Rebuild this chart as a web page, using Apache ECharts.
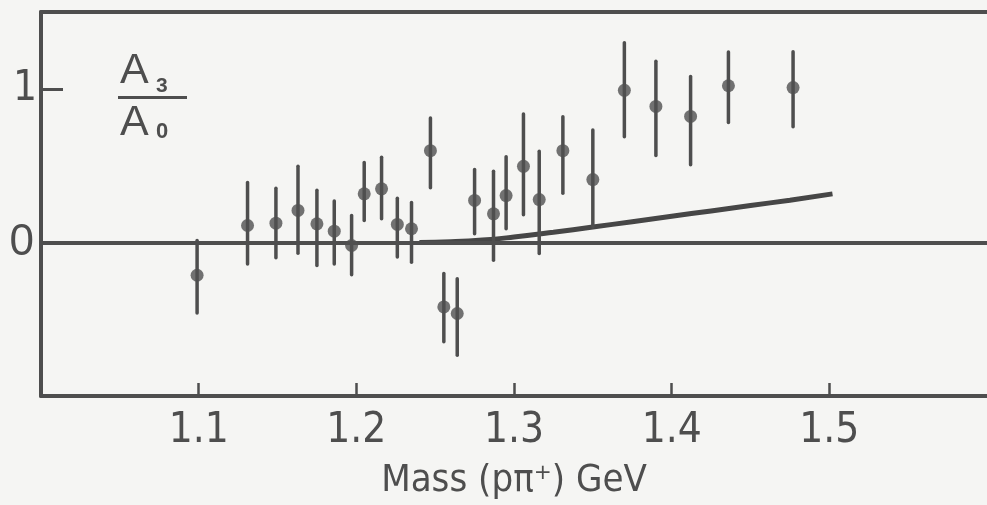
<!DOCTYPE html>
<html>
<head>
<meta charset="utf-8">
<script src="https://cdn.jsdelivr.net/npm/echarts@6/dist/echarts.min.js"></script>
<style>
  html, body { margin: 0; padding: 0; background: #f5f5f3; }
  #chart { width: 987px; height: 505px; }
</style>
</head>
<body>
<div id="chart"></div>
<script>
// ---- data ----
const massGeV   = [1.099, 1.131, 1.149, 1.163, 1.175, 1.186, 1.197, 1.205, 1.216, 1.226, 1.235, 1.247, 1.2555, 1.264, 1.275, 1.287, 1.295, 1.306, 1.316, 1.331, 1.350, 1.370, 1.390, 1.412, 1.436, 1.477];
const ratioA3A0 = [-0.214, 0.11, 0.125, 0.208, 0.121, 0.073, -0.02, 0.316, 0.349, 0.117, 0.089, 0.597, -0.42, -0.463, 0.273, 0.186, 0.305, 0.495, 0.279, 0.597, 0.409, 0.99, 0.885, 0.82, 1.02, 1.008];
const errTop    = [0.013, 0.39, 0.353, 0.495, 0.34, 0.27, 0.175, 0.52, 0.554, 0.288, 0.26, 0.81, -0.203, -0.236, 0.474, 0.463, 0.558, 0.836, 0.593, 0.818, 0.732, 1.30, 1.18, 1.08, 1.24, 1.242];
const errBottom = [-0.46, -0.14, -0.10, -0.07, -0.15, -0.14, -0.21, 0.143, 0.154, -0.095, -0.13, 0.355, -0.647, -0.734, 0.056, -0.117, 0.089, 0.18, -0.073, 0.32, 0.10, 0.688, 0.565, 0.505, 0.78, 0.753];
const curveMass  = [1.24, 1.26, 1.28, 1.30, 1.325, 1.35, 1.375, 1.40, 1.425, 1.45, 1.475, 1.502];
const curveRatio = [0.0, 0.004, 0.015, 0.035, 0.066, 0.10, 0.135, 0.17, 0.205, 0.24, 0.275, 0.316];
const xTickLabels = [1.1, 1.2, 1.3, 1.4, 1.5];
const yTickLabels = [0, 1];
const xTitle = 'Mass (pπ⁺) GeV';

// ---- build chart ----
const INK = '#4e4e4e';
const NARROW = '"Liberation Sans Narrow", "DejaVu Sans Condensed", "Liberation Sans", sans-serif';
const chart = echarts.init(document.getElementById('chart'), null, { renderer: 'canvas' });

const points = massGeV.map((m, i) => [m, ratioA3A0[i]]);
const bars = massGeV.map((m, i) => [m, errBottom[i], errTop[i]]);
const curve = curveMass.map((m, i) => [m, curveRatio[i]]);

chart.setOption({
  backgroundColor: '#f5f5f3',
  animation: false,
  grid: { left: 41, right: 0, top: 12, bottom: 108, containLabel: false },
  xAxis: [{
    type: 'value', min: 1.0, max: 1.6, position: 'bottom',
    axisLine: { show: true, onZero: false, lineStyle: { color: INK, width: 4 } },
    axisTick: { show: true, inside: true, length: 13, customValues: xTickLabels, lineStyle: { color: INK, width: 2.5 } },
    axisLabel: { show: true, customValues: xTickLabels, formatter: v => v.toFixed(1), color: INK, fontSize: 42, fontFamily: NARROW, margin: 14 },
    splitLine: { show: false },
    name: xTitle, nameLocation: 'middle', nameGap: 66,
    nameTextStyle: { color: INK, fontSize: 38, fontFamily: NARROW }
  }, {
    type: 'value', min: 1.0, max: 1.6, position: 'top',
    axisLine: { show: true, onZero: false, lineStyle: { color: INK, width: 4 } },
    axisTick: { show: false }, axisLabel: { show: false }, splitLine: { show: false }
  }],
  yAxis: {
    type: 'value', min: -1, max: 1.5,
    axisLine: { show: true, onZero: false, lineStyle: { color: INK, width: 4 } },
    axisTick: { show: true, inside: true, length: 22, customValues: [1], lineStyle: { color: INK, width: 3 } },
    axisLabel: {
      show: true, customValues: yTickLabels, margin: 4, color: INK, fontFamily: NARROW,
      formatter: v => v === 0 ? '{z|0}' : '{o|1}',
      rich: {
        z: { fontSize: 44, color: INK, fontFamily: '"Liberation Sans", sans-serif', padding: [0, 3, 0, 0] },
        o: { fontSize: 42, color: INK, fontFamily: NARROW, padding: [0, 0, 0, 0] }
      }
    },
    splitLine: { show: false }
  },
  graphic: [
    { type: 'text', left: 120, top: 50, style: { text: 'A', font: '43px "Liberation Sans", sans-serif', fill: INK } },
    { type: 'text', left: 156, top: 76, style: { text: '3', font: 'bold 21px "Liberation Sans", sans-serif', fill: INK } },
    { type: 'rect', shape: { x: 118, y: 96, width: 69, height: 3 }, style: { fill: INK } },
    { type: 'text', left: 120, top: 102, style: { text: 'A', font: '43px "Liberation Sans", sans-serif', fill: INK } },
    { type: 'text', left: 156, top: 121, style: { text: '0', font: 'bold 22px "Liberation Sans", sans-serif', fill: INK } }
  ],
  series: [
    {
      type: 'line', data: curve, smooth: true, showSymbol: false, silent: true,
      lineStyle: { color: '#464646', width: 5 },
      markLine: {
        silent: true, symbol: 'none', label: { show: false },
        lineStyle: { color: INK, width: 4, type: 'solid' },
        data: [{ yAxis: 0 }]
      },
      z: 3
    },
    {
      type: 'custom', data: bars, silent: true, z: 4,
      renderItem: function (params, api) {
        const p1 = api.coord([api.value(0), api.value(1)]);
        const p2 = api.coord([api.value(0), api.value(2)]);
        return {
          type: 'line',
          shape: { x1: p1[0], y1: p1[1], x2: p2[0], y2: p2[1] },
          style: { stroke: INK, lineWidth: 3.5, lineCap: 'round' }
        };
      }
    },
    {
      type: 'scatter', data: points, symbol: 'circle', symbolSize: 13, silent: true, z: 5,
      itemStyle: { color: '#505050' }
    }
  ]
});
</script>
</body>
</html>
